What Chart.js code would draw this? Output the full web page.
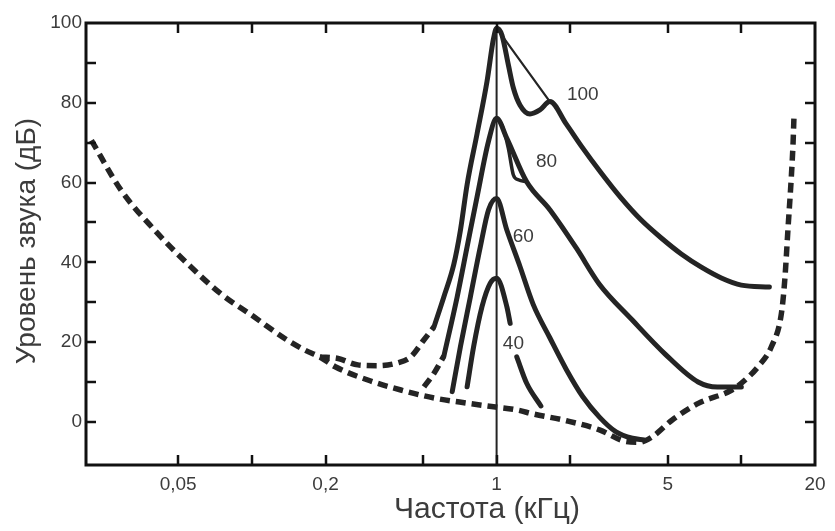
<!DOCTYPE html>
<html>
<head>
<meta charset="utf-8">
<script src="https://cdn.jsdelivr.net/npm/chart.js@4.4.1/dist/chart.umd.min.js"></script>
<style>
  html, body { margin: 0; padding: 0; background: #fff; }
  #wrap { width: 835px; height: 531px; position: relative; }
</style>
</head>
<body>
<div id="wrap"><canvas id="chart"></canvas></div>
<script>
// frequency in kHz, level in dB
var threshold = [[0.0221, 70.6], [0.0292, 58.1], [0.040, 48.1], [0.0545, 39.7], [0.0744, 32.2],
    [0.1017, 26.4], [0.1388, 20.6], [0.1647, 18.0], [0.1895, 16.3], [0.218, 13.9], [0.2977, 10.5],
    [0.4064, 8.0], [0.5546, 6.0], [0.7577, 4.7], [0.9714, 3.8], [1.209, 3.0], [1.412, 2.0],
    [1.929, 0.3], [2.632, -2.0], [3.378, -4.9], [3.824, -5.1], [4.33, -3.7], [5.219, 0.5],
    [6.698, 4.7], [9.144, 8.0], [10.36, 10.5], [11.73, 13.9], [13.28, 18.9], [14.58, 27.2],
    [15.05, 35.6], [15.53, 48.9], [16.01, 61.5], [16.27, 69.9], [16.42, 77.0]];

var mask100Dash = [[0.1895, 16.3], [0.225, 15.9], [0.2712, 14.3], [0.3268, 14.1], [0.394, 14.8],
    [0.4461, 16.3], [0.5051, 20.6], [0.5546, 23.8]];
var mask100 = [[0.5546, 23.8], [0.609, 31.4], [0.6685, 39.5], [0.7117, 48.1], [0.7577, 59.5],
    [0.8319, 72.2], [0.9134, 85.3], [0.9714, 96.1], [1.0, 98.7], [1.051, 97.0], [1.117, 89.5],
    [1.171, 83.7], [1.247, 79.4], [1.369, 77.2], [1.503, 78.2], [1.65, 80.3], [1.924, 74.7],
    [2.216, 69.2], [2.676, 62.4], [3.23, 56.1], [3.899, 50.6], [4.708, 46.1], [5.683, 42.1],
    [6.862, 38.8], [8.283, 36.1], [10.0, 34.3], [13.02, 33.8]];
var mask100Thin = [[1.0, 98.7], [1.65, 80.3]];

var mask80Dash = [[0.505, 8.8], [0.555, 12.2], [0.609, 16.5]];
var mask80 = [[0.609, 16.5], [0.6903, 31.4], [0.7577, 43.9], [0.8319, 56.4],
    [0.9271, 70.4], [1.0, 76.1], [1.101, 71.1], [1.327, 60.2], [1.65, 53.2],
    [2.116, 43.6], [2.625, 34.6], [3.577, 25.6], [4.883, 17.0], [6.66, 10.0], [7.98, 8.75], [10.0, 8.75]];
var mask80Inner = [[1.0, 76.1], [1.051, 74.4], [1.117, 68.6], [1.171, 61.9], [1.227, 60.7], [1.327, 60.2]];

var mask60 = [[0.6587, 7.6], [0.7117, 18.9], [0.7816, 31.4], [0.8581, 43.9], [0.9271, 53.2],
    [1.0, 56.0], [1.101, 48.1], [1.247, 38.9], [1.412, 29.4], [1.65, 21.1], [1.929, 13.1],
    [2.251, 6.3], [2.632, 1.2], [3.076, -2.5], [3.593, -4.1], [4.008, -4.5]];

var mask40 = [[0.7577, 8.8], [0.8058, 18.9], [0.8718, 28.9], [0.942, 34.8], [1.0, 36.0],
    [1.101, 28.9], [1.136, 24.7], [1.17, null], [1.209, 16.3], [1.327, 9.7], [1.517, 4.0]];

var toneLine = [[1.0, -10.8], [1.0, 98.7]];

var levelNames = ['100', '80', '60', '40'];
var levelFreq = [2.251, 1.600, 1.286, 1.171];
var levelDb = [81.9, 65.2, 46.5, 19.7];

var xTickValues = [0.05, 0.1, 0.2, 0.5, 1, 2, 5, 10, 20];
var xTickText = ['0,05', '', '0,2', '', '1', '', '5', '', '20'];
var yTickValues = [0, 10, 20, 30, 40, 50, 60, 70, 80, 90, 100];
var yTickText = ['0', '', '20', '', '40', '', '60', '', '80', '', '100'];

var INK = '#242424';
var TEXT = '#3c3c3c';
var FONT = "'Liberation Sans', Arial, sans-serif";

function pts(arr) {
    return arr.map(function (p) { return { x: p[0], y: p[1] }; });
}

function line(arr, width, dashed) {
    return {
        data: pts(arr),
        borderColor: INK,
        borderWidth: width,
        borderDash: dashed ? [10, 6] : [],
        borderCapStyle: dashed ? 'butt' : 'round',
        borderJoinStyle: 'round',
        pointRadius: 0,
        cubicInterpolationMode: 'monotone',
        fill: false
    };
}

var framePlugin = {
    id: 'frame',
    afterDraw: function (chart) {
        var ctx = chart.ctx;
        var a = chart.chartArea;
        var xs = chart.scales.x, ys = chart.scales.y;
        var tick = 10;
        ctx.save();
        ctx.strokeStyle = '#111';
        ctx.lineWidth = 2.5;
        ctx.beginPath();
        xTickValues.forEach(function (v) {
            var px = Math.round(xs.getPixelForValue(v));
            if (px <= a.left + 2 || px >= a.right - 2) return;
            ctx.moveTo(px, a.bottom); ctx.lineTo(px, a.bottom - tick);
            ctx.moveTo(px, a.top); ctx.lineTo(px, a.top + tick);
        });
        yTickValues.forEach(function (v) {
            var py = Math.round(ys.getPixelForValue(v));
            if (py <= a.top + 2 || py >= a.bottom - 2) return;
            ctx.moveTo(a.left, py); ctx.lineTo(a.left + tick, py);
            ctx.moveTo(a.right, py); ctx.lineTo(a.right - tick, py);
        });
        ctx.stroke();
        ctx.lineWidth = 3;
        ctx.strokeRect(a.left, a.top, a.right - a.left, a.bottom - a.top);

        // curve level labels
        ctx.fillStyle = TEXT;
        ctx.font = '19px ' + FONT;
        ctx.textAlign = 'center';
        ctx.textBaseline = 'middle';
        levelNames.forEach(function (t, i) {
            ctx.fillText(t, xs.getPixelForValue(levelFreq[i]), ys.getPixelForValue(levelDb[i]));
        });

        // axis titles
        ctx.font = '30px ' + FONT;
        ctx.textBaseline = 'alphabetic';
        ctx.fillText('Частота (кГц)', 487, 518);
        ctx.translate(35, 241);
        ctx.rotate(-Math.PI / 2);
        ctx.font = '28px ' + FONT;
        ctx.fillText('Уровень звука (дБ)', 0, 0);
        ctx.restore();
    }
};

new Chart(document.getElementById('chart').getContext('2d'), {
    type: 'line',
    data: {
        datasets: [
            line(threshold, 5.5, true),
            line(mask100Dash, 5.5, true),
            line(mask80Dash, 5.5, true),
            line(toneLine, 2, false),
            line(mask100Thin, 2.2, false),
            line(mask80Inner, 3.5, false),
            line(mask100, 5, false),
            line(mask80, 5, false),
            line(mask60, 5, false),
            line(mask40, 5, false)
        ]
    },
    options: {
        responsive: true,
        maintainAspectRatio: false,
        animation: false,
        layout: { padding: { top: 23, right: 20, left: 0, bottom: 0 } },
        plugins: {
            legend: { display: false },
            tooltip: { enabled: false }
        },
        scales: {
            x: {
                type: 'logarithmic',
                min: 0.021,
                max: 20,
                grid: { display: false, drawTicks: false },
                border: { display: false },
                afterBuildTicks: function (scale) {
                    scale.ticks = xTickValues.map(function (v) { return { value: v }; });
                },
                afterFit: function (scale) { scale.height = 66; },
                ticks: {
                    autoSkip: false,
                    maxRotation: 0,
                    padding: 8,
                    color: TEXT,
                    font: { family: FONT, size: 19 },
                    callback: function (v, i) { return xTickText[i]; }
                }
            },
            y: {
                min: -10.8,
                max: 100,
                grid: { display: false, drawTicks: false },
                border: { display: false },
                afterBuildTicks: function (scale) {
                    scale.ticks = yTickValues.map(function (v) { return { value: v }; });
                },
                afterFit: function (scale) { scale.width = 86; },
                ticks: {
                    autoSkip: false,
                    padding: 4,
                    color: TEXT,
                    font: { family: FONT, size: 19 },
                    callback: function (v, i) { return yTickText[i]; }
                }
            }
        }
    },
    plugins: [framePlugin]
});
</script>
</body>
</html>
